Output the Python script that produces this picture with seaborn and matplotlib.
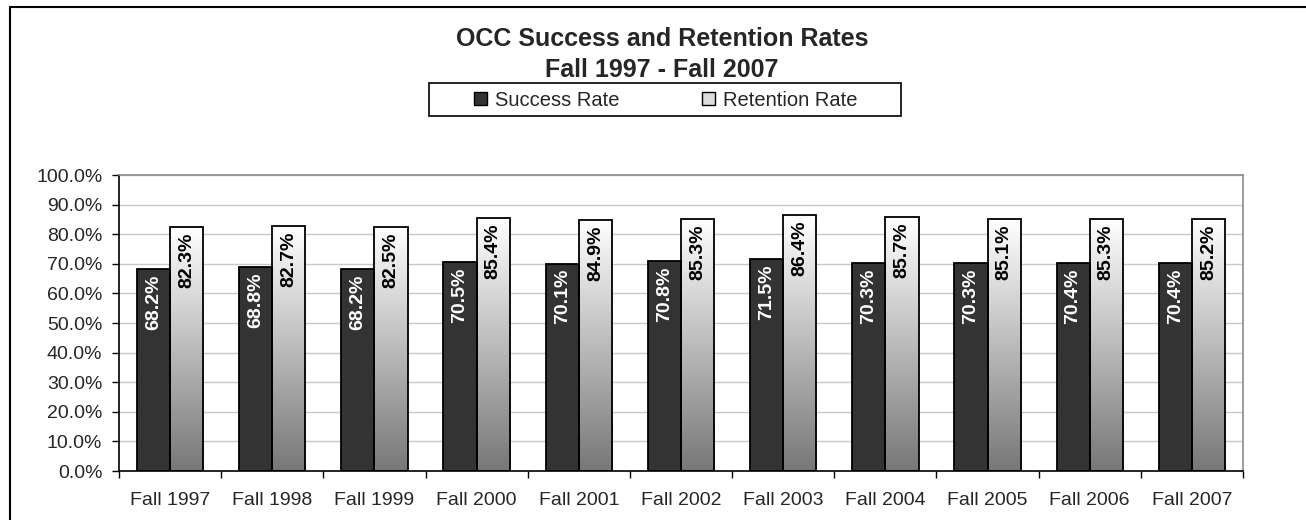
import numpy as np
import pandas as pd
import matplotlib
matplotlib.use("Agg")
import matplotlib.pyplot as plt
from matplotlib.colors import LinearSegmentedColormap
from matplotlib.lines import Line2D
from matplotlib.patches import Patch, Rectangle
import seaborn as sns

# values
terms = ["Fall 1997", "Fall 1998", "Fall 1999", "Fall 2000", "Fall 2001", "Fall 2002",
         "Fall 2003", "Fall 2004", "Fall 2005", "Fall 2006", "Fall 2007"]
success_rate = [68.2, 68.8, 68.2, 70.5, 70.1, 70.8, 71.5, 70.3, 70.3, 70.4, 70.4]
retention_rate = [82.3, 82.7, 82.5, 85.4, 84.9, 85.3, 86.4, 85.7, 85.1, 85.3, 85.2]
series_names = ["Success Rate", "Retention Rate"]
y_ticks = [0, 10, 20, 30, 40, 50, 60, 70, 80, 90, 100]

df = pd.DataFrame({
    "term": terms * 2,
    "series": [series_names[0]] * len(terms) + [series_names[1]] * len(terms),
    "rate": success_rate + retention_rate,
})

sns.set_style("ticks")
plt.rcParams["font.family"] = ["Liberation Sans", "DejaVu Sans"]

W, H = 1306, 520
fig = plt.figure(figsize=(W / 100, H / 100), dpi=100)
ax = fig.add_axes([119 / W, 49 / H, 1124 / W, 296 / H])

sns.barplot(
    data=df, x="term", y="rate", hue="series", hue_order=series_names,
    palette={"Success Rate": "#333333", "Retention Rate": "white"},
    width=0.65, saturation=1, edgecolor="black", linewidth=1.3,
    legend=False, ax=ax,
)

# white-to-gray vertical gradient on the retention bars
ramp = LinearSegmentedColormap.from_list("ramp", ["#ffffff", "#777777"])
grad = np.linspace(0, 1, 256).reshape(-1, 1)
for bar in ax.containers[1]:
    bar.set_facecolor("none")
    x0, w, h = bar.get_x(), bar.get_width(), bar.get_height()
    im = ax.imshow(grad, cmap=ramp, extent=[x0, x0 + w, 0, h], aspect="auto",
                   interpolation="bicubic", zorder=bar.get_zorder() - 0.05)
    im.set_clip_path(bar)

# rotated value labels just inside the top of each bar
for container, color in zip(ax.containers, ["white", "black"]):
    for bar in container:
        h = bar.get_height()
        ax.annotate(f"{h:.1f}%", (bar.get_x() + bar.get_width() / 2, h),
                    xytext=(0, -4), textcoords="offset points", rotation=90,
                    ha="center", va="top", color=color, fontsize=14,
                    fontweight="bold", zorder=5)

ax.set_xlim(-0.5, len(terms) - 0.5)
ax.set_ylim(0, 100)
ax.set_yticks(y_ticks)
ax.yaxis.set_major_formatter(lambda v, p: f"{v:.1f}%")
ax.set_xticks(np.arange(-0.5, len(terms), 1), minor=True)
ax.tick_params(axis="x", which="major", length=0, pad=15, labelsize=14)
ax.tick_params(axis="x", which="minor", length=5, width=1, color="black", direction="out")
ax.tick_params(axis="y", length=5, width=1, color="black", pad=7, labelsize=14, direction="out")
ax.grid(axis="y", color="#c8c8c8", linewidth=1)
ax.set_axisbelow(True)
ax.set_xlabel("")
ax.set_ylabel("")
for side in ["top", "right"]:
    ax.spines[side].set_color("#8c8c8c")
    ax.spines[side].set_linewidth(1.2)
for side in ["left", "bottom"]:
    ax.spines[side].set_color("black")
    ax.spines[side].set_linewidth(1.2)

fig.text(662 / W, 1 - 46 / H, "OCC Success and Retention Rates",
         ha="center", va="baseline", fontsize=18, fontweight="bold")
fig.text(662 / W, 1 - 77 / H, "Fall 1997 - Fall 2007",
         ha="center", va="baseline", fontsize=18, fontweight="bold")

# legend frame drawn by hand (wide, flat box)
fig.add_artist(Rectangle((429 / W, 1 - 116 / H), 472 / W, 33 / H, transform=fig.transFigure,
                         facecolor="white", edgecolor="black", linewidth=1.2))
handles = [Patch(facecolor="#333333", edgecolor="black"),
           Patch(facecolor="#dcdcdc", edgecolor="black")]
fig.legend(handles=handles, labels=series_names, ncol=2, loc="center",
           bbox_to_anchor=(666 / W, 1 - 100 / H), frameon=False, fontsize=14.5,
           handlelength=0.65, handleheight=0.65, handletextpad=0.4, columnspacing=4.1)

# chart-area border (top and left visible in the reference)
fig.add_artist(Line2D([10 / W, 1], [1 - 7 / H] * 2, transform=fig.transFigure,
                      color="black", linewidth=1.5))
fig.add_artist(Line2D([10 / W] * 2, [0, 1 - 7 / H], transform=fig.transFigure,
                      color="black", linewidth=1.5))

fig.savefig("out.png", dpi=100)
plt.close(fig)
